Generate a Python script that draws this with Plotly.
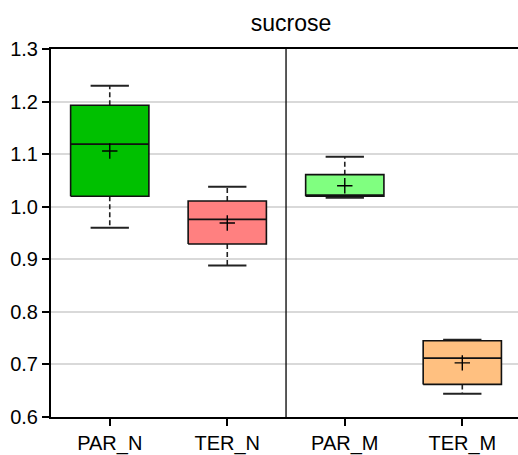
import plotly.graph_objects as go

# Summary statistics per group
groups = ["PAR_N", "TER_N", "PAR_M", "TER_M"]
whisker_low = [0.960, 0.888, 1.017, 0.644]
q1 = [1.020, 0.929, 1.020, 0.662]
median = [1.119, 0.976, 1.022, 0.712]
q3 = [1.193, 1.011, 1.061, 0.745]
whisker_high = [1.230, 1.038, 1.095, 0.747]
mean = [1.106, 0.969, 1.040, 0.703]
fill_colors = ["#00C000", "#FF8080", "#80FF80", "#FFC080"]

BOX_HALF = 0.333
CAP_HALF = 0.163

fig = go.Figure()

for i, g in enumerate(groups):
    x0, x1 = i - BOX_HALF, i + BOX_HALF
    # whiskers (dashed) from box edges to caps
    fig.add_trace(go.Scatter(
        x=[i, i, None, i, i],
        y=[q3[i], whisker_high[i], None, q1[i], whisker_low[i]],
        mode="lines", line=dict(color="#222222", width=1.6, dash="5px,3px"),
        hoverinfo="skip", showlegend=False))
    # caps
    fig.add_trace(go.Scatter(
        x=[i - CAP_HALF, i + CAP_HALF, None, i - CAP_HALF, i + CAP_HALF],
        y=[whisker_high[i], whisker_high[i], None, whisker_low[i], whisker_low[i]],
        mode="lines", line=dict(color="#222222", width=2),
        hoverinfo="skip", showlegend=False))
    # box
    fig.add_trace(go.Scatter(
        x=[x0, x1, x1, x0, x0],
        y=[q1[i], q1[i], q3[i], q3[i], q1[i]],
        mode="lines", fill="toself", fillcolor=fill_colors[i],
        line=dict(color="#111111", width=1.6),
        name=g, showlegend=False))
    # median
    fig.add_trace(go.Scatter(
        x=[x0, x1], y=[median[i], median[i]],
        mode="lines", line=dict(color="#111111", width=1.6),
        hoverinfo="skip", showlegend=False))

# means
fig.add_trace(go.Scatter(
    x=list(range(len(groups))), y=mean, mode="markers",
    marker=dict(symbol="cross-thin", size=11, line=dict(color="black", width=1.4)),
    showlegend=False))

# separator between the two site groups
fig.add_shape(type="line", xref="x", yref="paper", x0=1.5, x1=1.5, y0=0, y1=1,
              line=dict(color="black", width=1.3))

fig.update_layout(
    width=518, height=455,
    margin=dict(l=51, r=0, t=49, b=34),
    paper_bgcolor="white", plot_bgcolor="white",
    font=dict(family="Liberation Sans, Arial, sans-serif", size=20, color="black"),
    title=dict(text="sucrose", x=0.562, xanchor="center", y=0.95, yanchor="middle",
               font=dict(size=23)),
)
fig.update_xaxes(
    range=[-0.5, 3.474], tickmode="array", tickvals=list(range(len(groups))),
    ticktext=groups, showgrid=False, zeroline=False,
    showline=True, linecolor="black", linewidth=2, mirror=True,
    ticks="outside", ticklen=7, tickwidth=1.5, tickcolor="black")
fig.update_yaxes(
    range=[0.6, 1.3], dtick=0.1, tickformat=".1f",
    showgrid=True, gridcolor="#d9d9d9", gridwidth=1.5, zeroline=False,
    showline=True, linecolor="black", linewidth=2,
    ticks="outside", ticklen=7, tickwidth=1.5, tickcolor="black")

fig.write_html("out.html")
